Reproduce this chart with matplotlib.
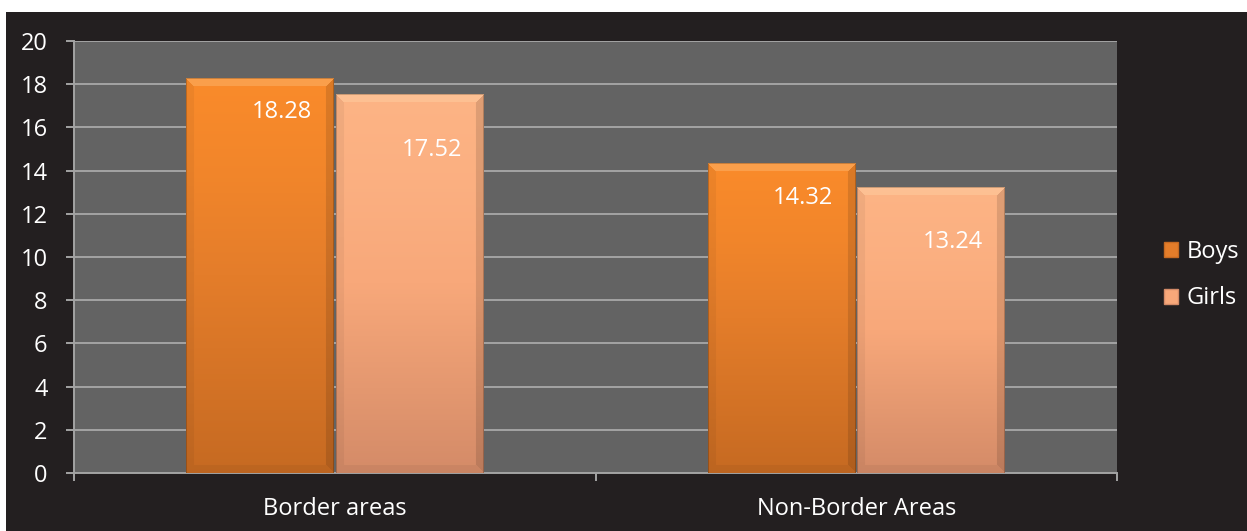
import numpy as np
import matplotlib
matplotlib.use("Agg")
import matplotlib.pyplot as plt
from matplotlib.patches import Rectangle
from matplotlib.colors import to_rgb

categories = ["Border areas", "Non-Border Areas"]
series = ["Boys", "Girls"]
boys = [18.28, 14.32]
girls = [17.52, 13.24]
yticks = [0, 2, 4, 6, 8, 10, 12, 14, 16, 18, 20]

plt.rcParams['font.family'] = ['Open Sans', 'DejaVu Sans']

W, H = 1247, 531
fig = plt.figure(figsize=(W / 100, H / 100), dpi=100, facecolor='white')
fig.patches.append(Rectangle((6 / W, 0), 1 - 6 / W, (H - 12) / H, transform=fig.transFigure,
                             facecolor='#231f20', edgecolor='none', zorder=-5))
ax = fig.add_axes([74 / W, (H - 473) / H, 1043 / W, 432 / H])
ax.set_facecolor('#636363')

x = np.arange(len(categories))
bw = 0.283
gap = 0.004
top_cols = {'Boys': '#fa8b2b', 'Girls': '#fdb485'}
mid_cols = {'Boys': '#e47d2a', 'Girls': '#f8a87a'}
bot_cols = {'Boys': '#c66a22', 'Girls': '#d48b68'}
label_off = {'Boys': -34, 'Girls': -55}
ax.set_xlim(-0.5, 1.5)
ax.set_ylim(0, 20)

bars_all = []
for i, (name, vals) in enumerate(zip(series, [boys, girls])):
    pos = x + (i - 0.5) * (bw + gap)
    bars = ax.bar(pos, vals, width=bw, color=top_cols[name], edgecolor='none', zorder=2, label=name)
    bars_all.append((name, bars, vals, pos))

fig.canvas.draw()
for name, bars, vals, pos in bars_all:
    t = np.array(to_rgb(top_cols[name]))
    m = np.array(to_rgb(mid_cols[name]))
    b = np.array(to_rgb(bot_cols[name]))
    for p in bars:
        x0, y0 = p.get_x(), p.get_y()
        w, h = p.get_width(), p.get_height()
        (px0, py0), (px1, py1) = ax.transData.transform([(x0, y0), (x0 + w, y0 + h)])
        nx, ny = max(int(px1 - px0), 2), max(int(py1 - py0), 2)
        yy = np.linspace(0, 1, ny)
        col = np.empty((ny, 3))
        for k in range(3):
            col[:, k] = np.interp(yy, [0, 0.25, 0.5, 1], [t[k], t[k] * 0.6 + m[k] * 0.4, m[k], b[k]])
        img = np.repeat(col[:, None, :], nx, axis=1)
        cols = np.arange(nx)[None, :]
        rows = np.arange(ny)[:, None]
        bev = 8
        topm = (rows < bev) & (rows <= cols) & (rows <= nx - 1 - cols)
        img[topm] = img[topm] * 0.8 + 0.2 * np.array([1.0, 0.95, 0.8])
        left = (cols < bev) & (cols < rows) & (cols < ny - 1 - rows)
        right = (nx - 1 - cols < bev) & (nx - 1 - cols < rows) & (nx - 1 - cols < ny - 1 - rows)
        img[left] = img[left] * 0.95
        img[right] = img[right] * 0.88
        botm = (ny - 1 - rows < bev) & (ny - 1 - rows <= cols) & (ny - 1 - rows <= nx - 1 - cols)
        img[botm] = img[botm] * 0.95
        edge = (cols == 0) | (cols == nx - 1) | (rows == 0)
        img[edge] = img[edge] * 0.8
        ax.imshow(np.clip(img, 0, 1), extent=[x0, x0 + w, y0, y0 + h], aspect='auto',
                  zorder=3, interpolation='bilinear')
    for xp, v in zip(pos, vals):
        ax.annotate(f"{v:.2f}", xy=(xp, v), xytext=(22, label_off[name]), textcoords='offset pixels',
                    ha='center', va='center', color='white', fontsize=17, zorder=5)

ax.set_xlim(-0.5, 1.5)
ax.set_ylim(0, 20)
ax.set_yticks(yticks)
ax.set_yticklabels([str(v) for v in yticks])
ax.yaxis.grid(True, color='#a3a3a3', linewidth=1.4, zorder=1)
ax.set_axisbelow(True)
ax.set_xticks(x)
ax.set_xticklabels(categories)
ax.set_xticks([-0.5, 0.5, 1.5], minor=True)
ax.tick_params(axis='x', which='major', length=0, pad=17, labelcolor='white', labelsize=17)
ax.tick_params(axis='x', which='minor', length=6, width=1.4, color='#a3a3a3', direction='out')
ax.tick_params(axis='y', length=6, width=1.4, color='#a3a3a3', pad=13, labelcolor='white', labelsize=17)
for s in ['top', 'right']:
    ax.spines[s].set_visible(False)
for s in ['left', 'bottom']:
    ax.spines[s].set_color('#a3a3a3')
    ax.spines[s].set_linewidth(1.4)

leg = ax.legend(loc='center left', bbox_to_anchor=(1.025, 0.458), frameon=False, fontsize=17,
                labelcolor='white', handlelength=0.6, handleheight=0.6, handletextpad=0.35,
                labelspacing=0.95)
for hdl, name in zip(leg.legend_handles, series):
    hdl.set_facecolor(mid_cols[name])
    hdl.set_edgecolor(bot_cols[name])

fig.savefig("out.png", dpi=100, facecolor=fig.get_facecolor())
